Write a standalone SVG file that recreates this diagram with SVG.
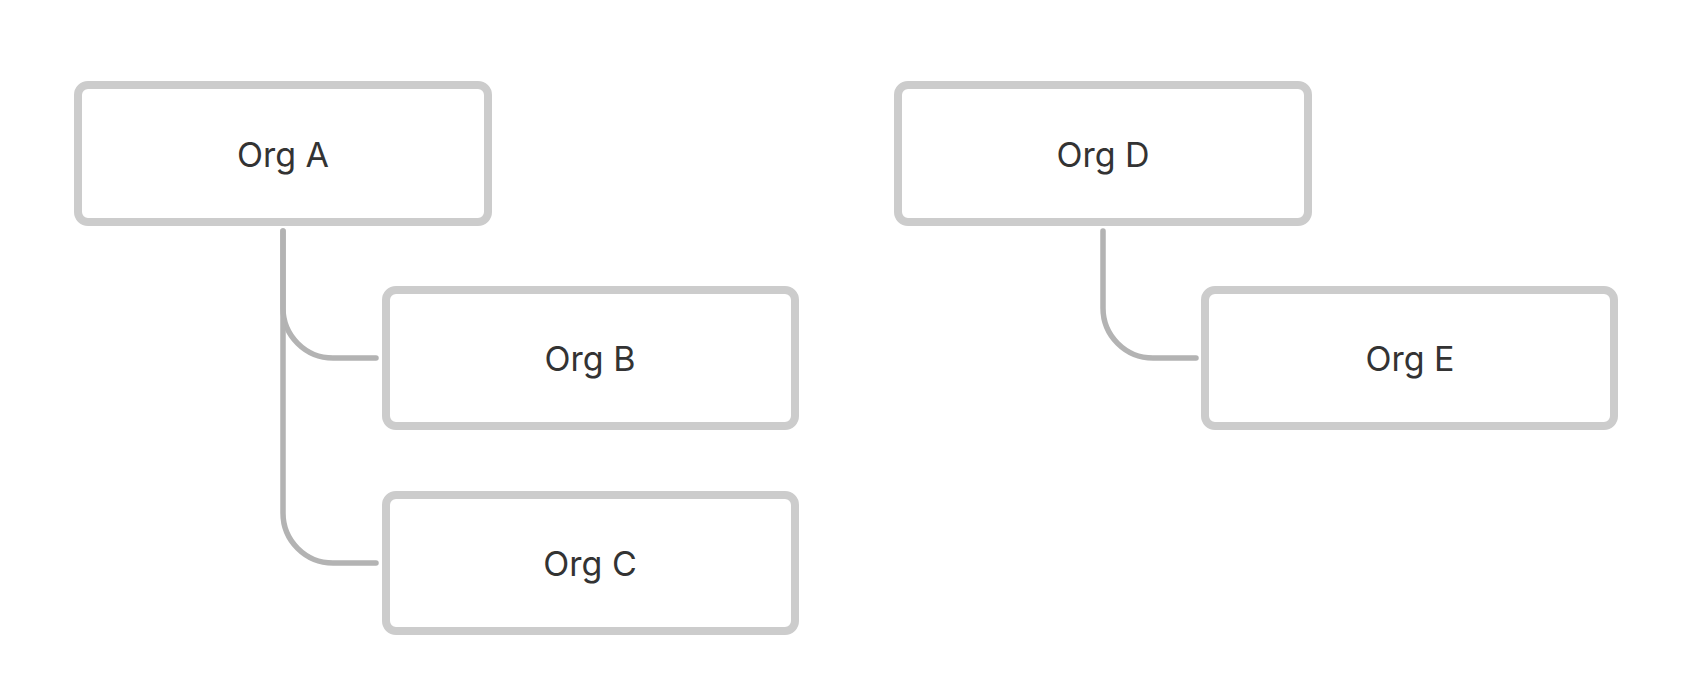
<svg xmlns="http://www.w3.org/2000/svg" width="1698" height="684" viewBox="0 0 1698 684">
<style>
.box{fill:#ffffff;stroke:#cccccc;stroke-width:8}
.lbl{font-family:Inter,"Noto Sans",sans-serif;font-size:34px;fill:#333333;text-anchor:middle;dominant-baseline:central}
.edge{fill:none;stroke:#b3b3b3;stroke-width:5.5;stroke-linecap:round}
</style>
<rect width="1698" height="684" fill="#ffffff"/>
<g id="connectors">
<path class="edge" d="M283 231 V308 A50 50 0 0 0 333 358 H376"/>
<path class="edge" d="M283 231 V513 A50 50 0 0 0 333 563 H376"/>
<path class="edge" d="M1103 231 V308 A50 50 0 0 0 1153 358 H1196"/>
</g>
<g id="orgA"><rect class="box" x="78" y="85" width="410" height="137" rx="10"/><text class="lbl" x="283" y="154">Org A</text></g>
<g id="orgB"><rect class="box" x="386" y="290" width="409" height="136" rx="10"/><text class="lbl" x="590" y="358">Org B</text></g>
<g id="orgC"><rect class="box" x="386" y="495" width="409" height="136" rx="10"/><text class="lbl" x="590" y="563">Org C</text></g>
<g id="orgD"><rect class="box" x="898" y="85" width="410" height="137" rx="10"/><text class="lbl" x="1103" y="154">Org D</text></g>
<g id="orgE"><rect class="box" x="1205" y="290" width="409" height="136" rx="10"/><text class="lbl" x="1410" y="358">Org E</text></g>
</svg>
